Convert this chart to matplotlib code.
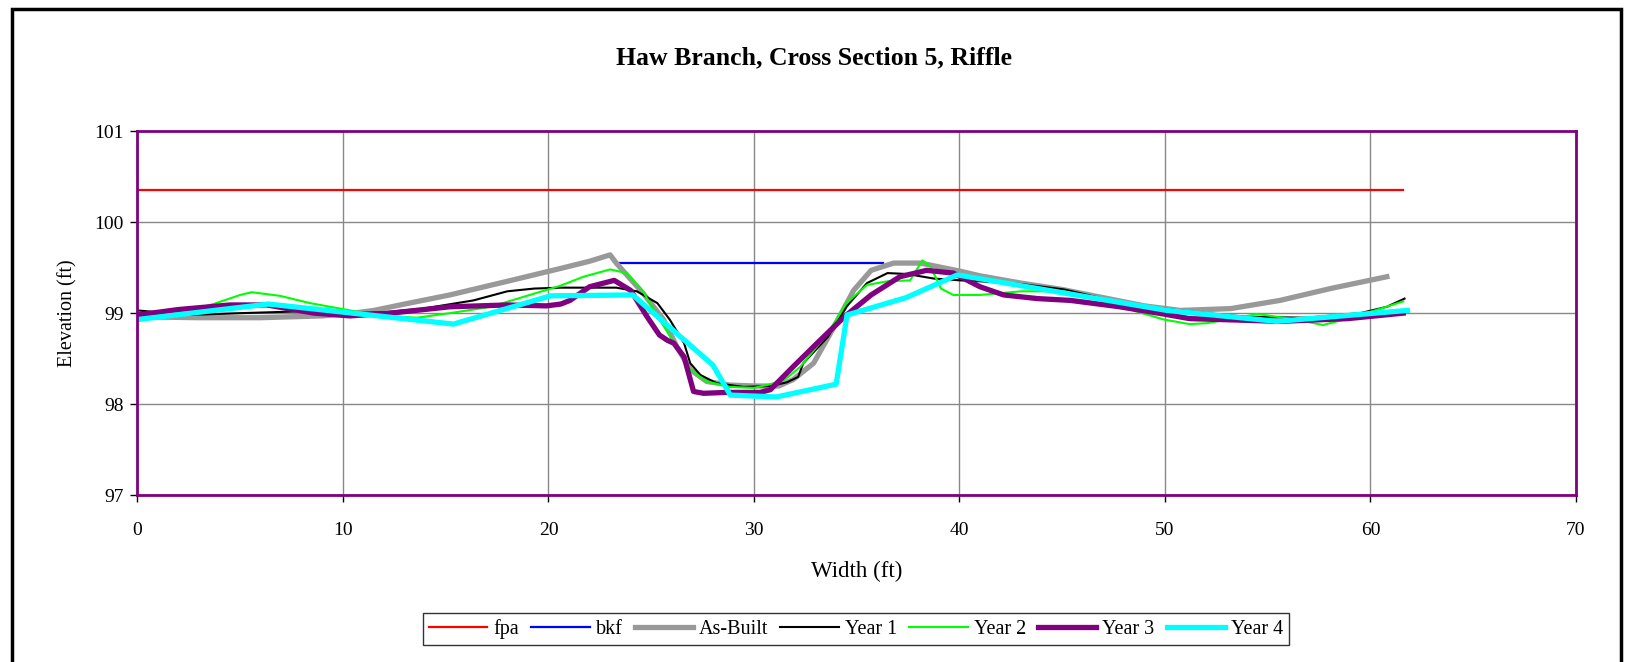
import matplotlib
matplotlib.use("Agg")
import matplotlib.pyplot as plt
from matplotlib.patches import Rectangle

plt.rcParams['font.family'] = ['Liberation Serif', 'DejaVu Serif']

# floodprone and bankfull elevations
fpa_x = [0, 61.6]
fpa_y = [100.35, 100.35]
bkf_x = [23.33, 36.3]
bkf_y = [99.555, 99.555]

asbuilt_x = [0, 3, 6, 9, 10.5, 11.5, 13, 15.2, 18, 20.57, 22.0, 23.0, 23.3, 24.6, 25.6,
             26.25, 26.9, 27.7, 28.85, 30.1, 31.2, 31.9, 32.9, 33.9, 34.85, 35.7, 36.8,
             38.1, 40.05, 41.0, 43.0, 45.0, 47.0, 49.0, 50.75, 53.2, 55.6, 58.05, 60.8]
asbuilt_y = [98.96, 98.95, 98.95, 98.97, 99.0, 99.03, 99.1, 99.2, 99.35, 99.49, 99.57,
             99.64, 99.55, 99.22, 98.93, 98.63, 98.38, 98.25, 98.21, 98.2, 98.2, 98.27,
             98.45, 98.85, 99.25, 99.47, 99.55, 99.55, 99.46, 99.41, 99.33, 99.26, 99.17,
             99.08, 99.03, 99.05, 99.14, 99.27, 99.4]

yr1_x = [0, 2.5, 5, 8, 10, 12, 13.9, 16.35, 18, 19.3, 20.57, 23.3, 24.3, 25.3, 25.9, 26.6,
         26.9, 27.4, 28.2, 29.5, 30.8, 31.6, 32.15, 32.4, 33.6, 34.5, 35.5, 36.5, 37.45,
         38.75, 40.05, 41.0, 43.0, 45.1, 47.0, 48.6, 50.3, 52.0, 54.0, 56.9, 59.5, 60.8, 61.66]
yr1_y = [99.03, 98.98, 99.0, 99.02, 99.0, 99.01, 99.05, 99.14, 99.24, 99.27, 99.28, 99.28,
         99.24, 99.11, 98.93, 98.67, 98.45, 98.32, 98.23, 98.19, 98.2, 98.24, 98.3, 98.45,
         98.74, 99.07, 99.33, 99.44, 99.43, 99.38, 99.36, 99.35, 99.32, 99.26, 99.16, 99.09,
         99.04, 99.0, 98.96, 98.95, 99.0, 99.07, 99.16]

yr2_x = [0, 2, 3.7, 5.0, 5.56, 6.94, 8.4, 10.35, 11.5, 13.6, 15.2, 17.2, 18.8, 20.57, 21.7,
         23.0, 23.8, 24.6, 25.4, 26.25, 26.9, 27.7, 28.85, 30.0, 30.8, 31.5, 32.25, 33.6,
         34.5, 35.5, 36.5, 37.6, 38.2, 38.6, 39.1, 39.7, 41.0, 43.0, 45.1, 47.0, 48.6,
         49.95, 51.2, 52.05, 54.5, 56.1, 57.7, 59.2, 60.5, 61.6]
yr2_y = [98.99, 99.0, 99.1, 99.2, 99.23, 99.19, 99.11, 99.03, 98.98, 98.95, 99.0, 99.07,
         99.18, 99.30, 99.4, 99.48, 99.44, 99.24, 98.93, 98.63, 98.38, 98.25, 98.19, 98.18,
         98.22, 98.27, 98.41, 98.78, 99.11, 99.31, 99.35, 99.36, 99.58, 99.51, 99.27, 99.2,
         99.2, 99.24, 99.24, 99.13, 99.02, 98.93, 98.88, 98.89, 98.99, 98.94, 98.87, 98.96,
         99.05, 99.13]

yr3_x = [0, 2.0, 4.5, 6.3, 8.6, 10.35, 12.3, 15.2, 18, 19.9, 20.6, 21.05, 22.0, 23.2, 24.0,
         24.8, 25.4, 25.8, 26.1, 26.6, 27.06, 27.55, 28.7, 30.3, 30.8, 31.9, 33.07, 34.4, 35.7,
         37.1, 38.4, 39.7, 41.0, 42.15, 43.8, 45.4, 47.8, 49.95, 51.2, 55.6, 58.9, 61.6]
yr3_y = [98.98, 99.04, 99.09, 99.09, 99.0, 98.97, 99.0, 99.07, 99.09, 99.08, 99.1, 99.14,
         99.29, 99.36, 99.25, 98.96, 98.76, 98.70, 98.67, 98.52, 98.14, 98.12, 98.13, 98.13,
         98.16, 98.41, 98.67, 98.96, 99.2, 99.4, 99.47, 99.44, 99.29, 99.2, 99.16, 99.14,
         99.07, 98.99, 98.94, 98.91, 98.94, 99.0]

yr4_x = [0, 6.37, 15.38, 20.1, 24.1, 28.0, 28.85, 31.1, 34.0, 34.53, 37.4, 39.9, 50.1,
         55.46, 61.8]
yr4_y = [98.93, 99.1, 98.88, 99.19, 99.2, 98.43, 98.10, 98.08, 98.22, 98.98, 99.17, 99.42,
         99.03, 98.91, 99.03]

fig = plt.figure(figsize=(16.27, 6.62), dpi=100)
fig.patches.append(Rectangle((0.0075, -0.05), 0.989, 1.037, transform=fig.transFigure,
                             fill=False, edgecolor='black', linewidth=2.5))

ax = fig.add_axes([0.0845, 0.2518, 0.8841, 0.5503])
ax.plot(fpa_x, fpa_y, color='#ff0000', lw=1.6, label='fpa')
ax.plot(bkf_x, bkf_y, color='#0000ff', lw=1.6, label='bkf')
ax.plot(asbuilt_x, asbuilt_y, color='#999999', lw=3.8, label='As-Built', solid_joinstyle='round')
ax.plot(yr1_x, yr1_y, color='black', lw=1.5, label='Year 1')
ax.plot(yr2_x, yr2_y, color='#00ff00', lw=1.5, label='Year 2')
ax.plot(yr3_x, yr3_y, color='#800080', lw=3.8, label='Year 3', solid_joinstyle='round')
ax.plot(yr4_x, yr4_y, color='#00ffff', lw=3.8, label='Year 4')

ax.set_xlim(0, 70)
ax.set_ylim(97, 101)
ax.set_xticks(range(0, 71, 10))
ax.set_yticks([97, 98, 99, 100, 101])
ax.grid(True, color='#888888', lw=1.0)
ax.set_axisbelow(True)
for s in ax.spines.values():
    s.set_color('#800080')
    s.set_linewidth(2)
ax.tick_params(direction='out', length=5, width=1, color='black', labelsize=14)
ax.tick_params(axis='x', pad=14)
ax.tick_params(axis='y', pad=5)

ax.set_xlabel('Width (ft)', fontsize=16.5, labelpad=16)
ax.set_ylabel('Elevation (ft)', fontsize=14.5, labelpad=12)
fig.text(0.5, 0.912, 'Haw Branch, Cross Section 5, Riffle', ha='center', va='center',
         fontsize=18.5, fontweight='bold')

leg = ax.legend(loc='center', bbox_to_anchor=(0.5262, 0.050), bbox_transform=fig.transFigure,
                ncol=7, fontsize=14.5, frameon=True, fancybox=False, edgecolor='black',
                handlelength=2.9, handletextpad=0.3, columnspacing=0.6, borderpad=0.3)
leg.get_frame().set_linewidth(1.0)

fig.savefig('out.png', dpi=100)
